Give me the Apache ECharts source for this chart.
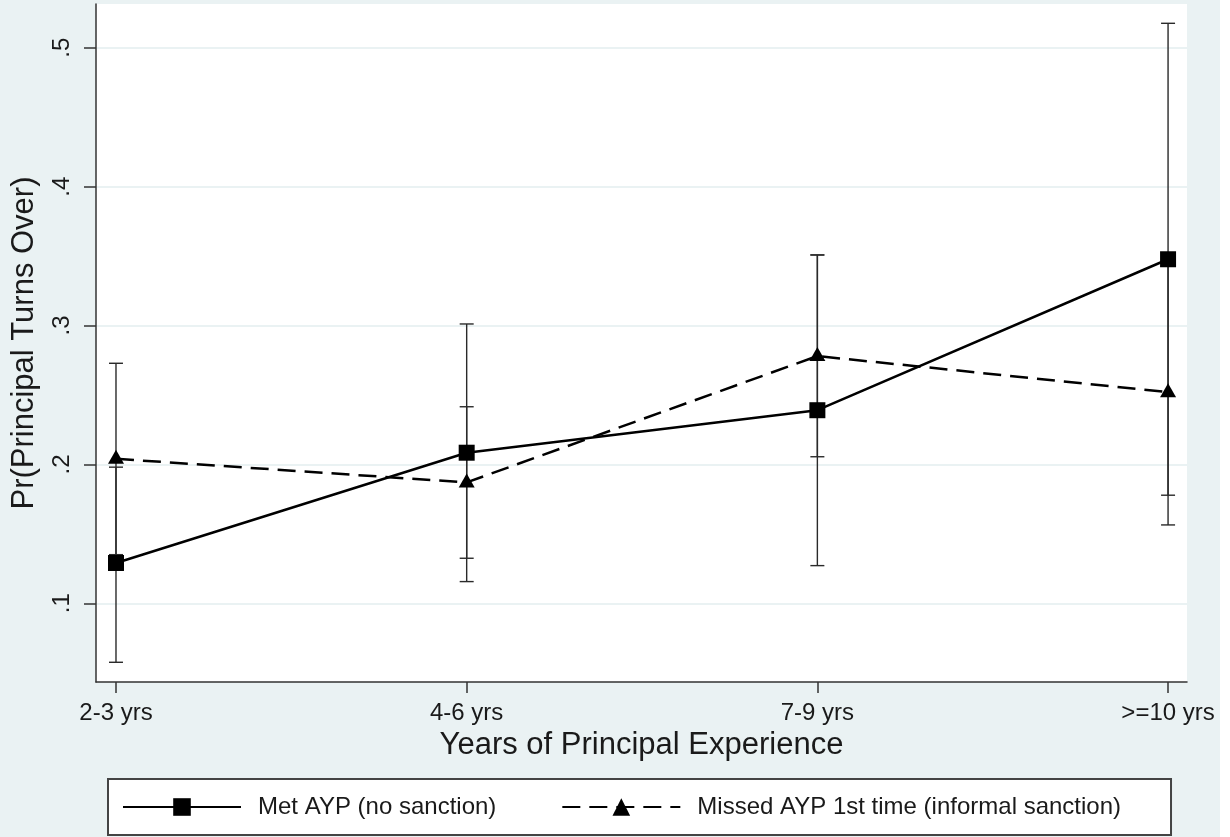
<!DOCTYPE html>
<html>
<head>
<meta charset="utf-8">
<script src="https://cdn.jsdelivr.net/npm/echarts@6/dist/echarts.min.js"></script>
<style>
  html, body { margin: 0; padding: 0; background: #ffffff; }
  #chart { width: 1220px; height: 837px; }
</style>
</head>
<body>
<div id="chart"></div>
<script>
// Experience bands on the horizontal axis
const categories = ['2-3 yrs', '4-6 yrs', '7-9 yrs', '>=10 yrs'];

// Met AYP (no sanction): point estimates and 95% CI bounds
const metAYP = [0.129, 0.2084, 0.239, 0.3477];
const metLow = [0.0575, 0.1156, 0.1271, 0.1778];
const metHigh = [0.198, 0.3011, 0.3508, 0.5176];

// Missed AYP 1st time (informal sanction): point estimates and 95% CI bounds
const missedAYP = [0.204, 0.187, 0.278, 0.252];
const missedLow = [0.135, 0.1324, 0.2055, 0.1564];
const missedHigh = [0.2728, 0.2415, 0.3508, 0.348];

// Y-axis tick values
const yTicks = [0.1, 0.2, 0.3, 0.4, 0.5];
const xTicks = categories.map((c, i) => i);

const FONT = '"Liberation Sans", Arial, sans-serif';
const TEXT = '#1a1a1a';
const AXIS = '#333333';
const BG = '#EAF2F3';

function pairs(vals) { return vals.map((v, i) => [i, v]); }
function ranges(lo, hi) { return lo.map((v, i) => [i, v, hi[i]]); }

function capRenderer(params, api) {
  const x = api.value(0);
  const top = api.coord([x, api.value(2)]);
  const bot = api.coord([x, api.value(1)]);
  const hw = 7;
  const style = { stroke: '#2a2a2a', lineWidth: 1.4, fill: null };
  return {
    type: 'group',
    children: [
      { type: 'line', shape: { x1: top[0], y1: top[1], x2: bot[0], y2: bot[1] }, style },
      { type: 'line', shape: { x1: top[0] - hw, y1: top[1], x2: top[0] + hw, y2: top[1] }, style },
      { type: 'line', shape: { x1: bot[0] - hw, y1: bot[1], x2: bot[0] + hw, y2: bot[1] }, style }
    ]
  };
}

const chart = echarts.init(document.getElementById('chart'), null, { renderer: 'canvas' });

chart.setOption({
  backgroundColor: BG,
  animation: false,
  textStyle: { fontFamily: FONT, color: TEXT },
  grid: {
    left: 96, right: 33, top: 4, bottom: 155,
    show: true, backgroundColor: '#ffffff', borderWidth: 0
  },
  legend: {
    data: ['Met AYP (no sanction)', 'Missed AYP 1st time (informal sanction)'],
    left: 108, top: 779,
    orient: 'horizontal',
    padding: [16, 50, 16, 14],
    itemWidth: 118, itemHeight: 22, itemGap: 65,
    backgroundColor: '#ffffff',
    borderColor: '#444444', borderWidth: 2, borderRadius: 0,
    textStyle: { fontFamily: FONT, fontSize: 24, color: TEXT, padding: [0, 0, 0, 12] }
  },
  xAxis: {
    type: 'value',
    min: -0.057, max: 3.054,
    name: 'Years of Principal Experience',
    nameLocation: 'middle', nameGap: 45,
    nameTextStyle: { fontFamily: FONT, fontSize: 31, color: TEXT },
    axisLine: { show: true, onZero: false, lineStyle: { color: AXIS, width: 1.5 } },
    axisTick: { show: true, customValues: xTicks, length: 11, lineStyle: { color: AXIS, width: 1.5 } },
    axisLabel: {
      customValues: xTicks, margin: 19,
      fontFamily: FONT, fontSize: 24, color: TEXT,
      formatter: v => categories[Math.round(v)]
    },
    splitLine: { show: false }
  },
  yAxis: {
    type: 'value',
    min: 0.0433, max: 0.5315,
    name: 'Pr(Principal Turns Over)',
    nameLocation: 'middle', nameGap: 56, nameRotate: 90,
    nameTextStyle: { fontFamily: FONT, fontSize: 31, color: TEXT },
    axisLine: { show: true, onZero: false, lineStyle: { color: AXIS, width: 1.5 } },
    axisTick: { show: true, customValues: yTicks, length: 12, lineStyle: { color: AXIS, width: 1.5 } },
    axisLabel: {
      customValues: yTicks, rotate: 90, margin: 22,
      fontFamily: FONT, fontSize: 24, color: TEXT,
      formatter: v => '.' + Math.round(v * 10)
    },
    splitLine: { show: true, lineStyle: { color: BG, width: 2 } }
  },
  series: [
    {
      name: 'Met AYP CI', type: 'custom', renderItem: capRenderer,
      data: ranges(metLow, metHigh), z: 1, silent: true
    },
    {
      name: 'Missed AYP CI', type: 'custom', renderItem: capRenderer,
      data: ranges(missedLow, missedHigh), z: 1, silent: true
    },
    {
      name: 'Met AYP (no sanction)', type: 'line',
      data: pairs(metAYP),
      symbol: 'rect', symbolSize: 16,
      lineStyle: { color: '#000000', width: 2.5, type: 'solid' },
      itemStyle: { color: '#000000' },
      z: 3
    },
    {
      name: 'Missed AYP 1st time (informal sanction)', type: 'line',
      data: pairs(missedAYP),
      symbol: 'triangle', symbolSize: [16, 14], symbolOffset: [0, -2],
      lineStyle: { color: '#000000', width: 2.5, type: [18, 9] },
      itemStyle: { color: '#000000' },
      z: 3
    }
  ]
});
</script>
</body>
</html>
